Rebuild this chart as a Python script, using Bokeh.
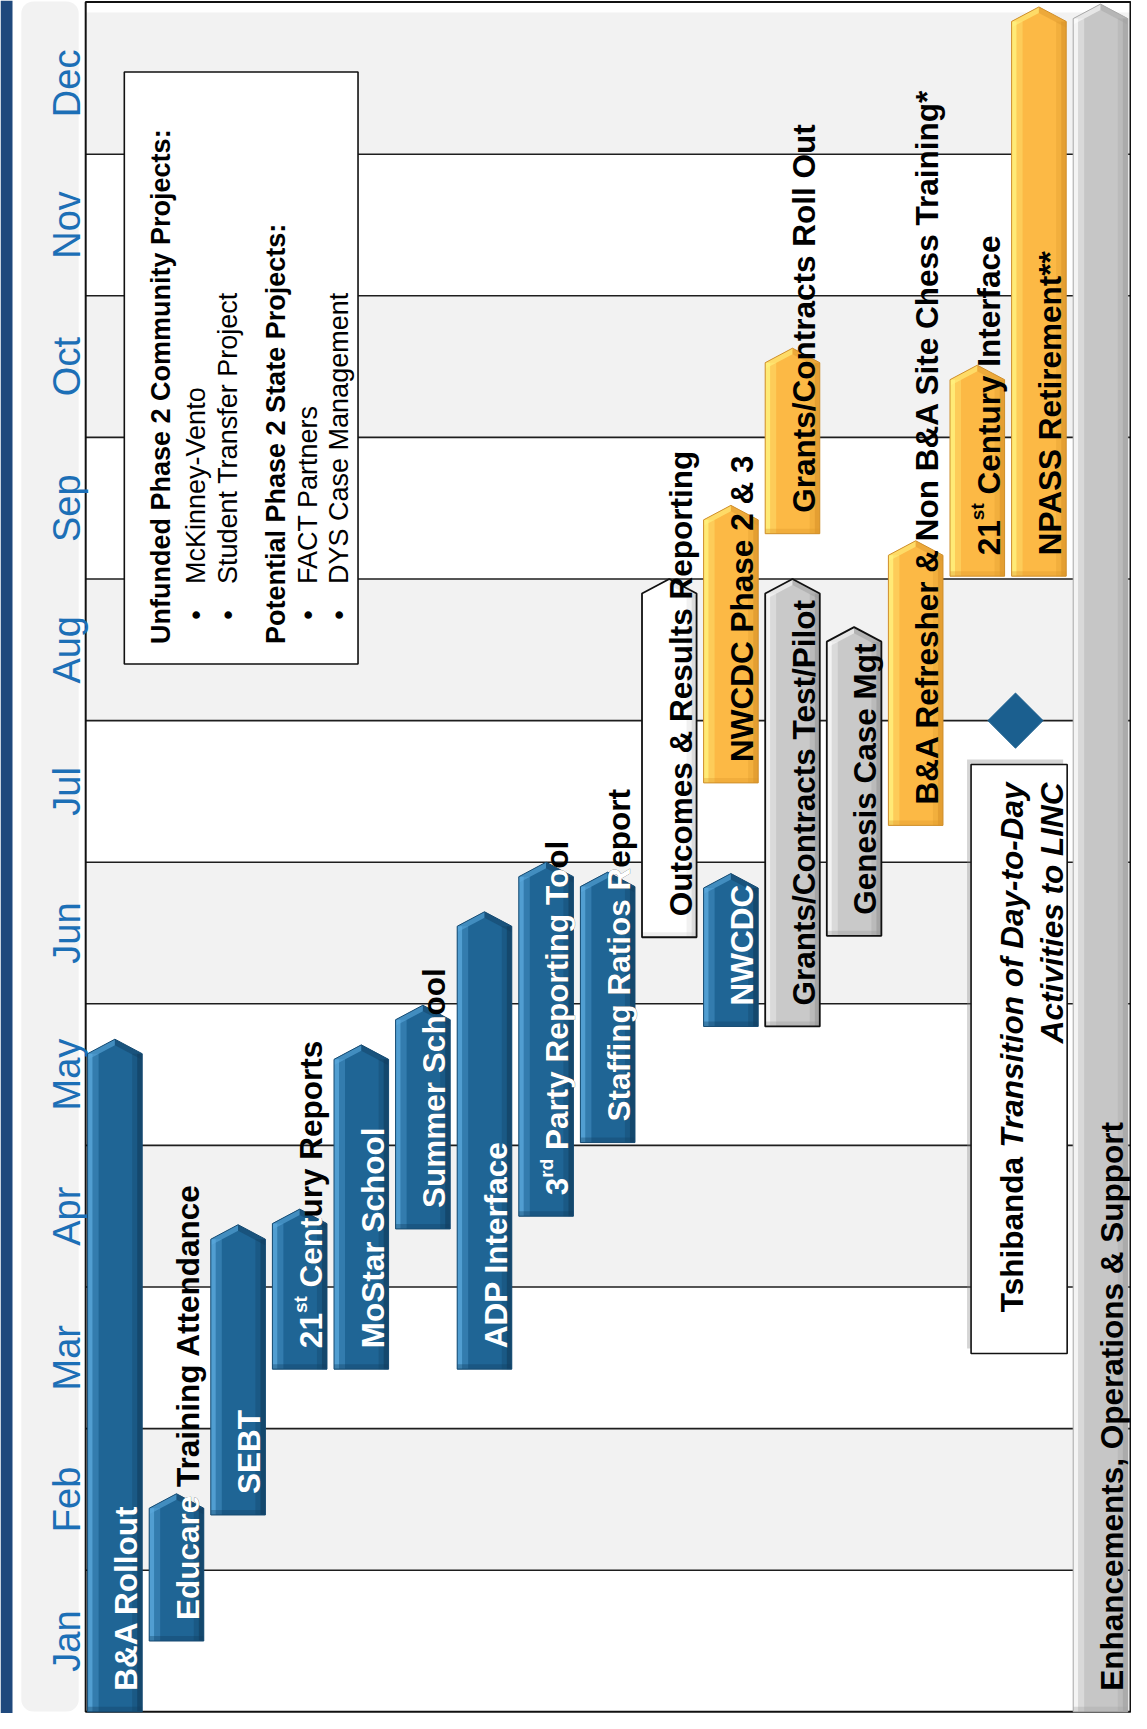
import math
import re
from bokeh.plotting import figure
from bokeh.models import Range1d, ColumnDataSource
from bokeh.core.properties import value, field
from bokeh.embed import file_html
from bokeh.resources import INLINE

# ---------------- data ----------------
MONTHS = ["Jan", "Feb", "Mar", "Apr", "May", "Jun", "Jul", "Aug", "Sep", "Oct", "Nov", "Dec"]

TASKS = ["B&A Rollout", "Educare Training Attendance", "SEBT", "21st Century Reports",
         "MoStar School", "Summer School", "ADP Interface", "3rd Party Reporting Tool",
         "Staffing Ratios Report", "Outcomes & Results Reporting", "NWCDC",
         "NWCDC Phase 2 & 3", "Grants/Contracts Test/Pilot", "Genesis Case Mgt",
         "Grants/Contracts Roll Out", "B&A Refresher & Non B&A Site Chess Training*",
         "21st Century Interface", "NPASS Retirement**", "Enhancements, Operations & Support"]
LANES = [0, 1, 2, 3, 4, 5, 6, 7, 8, 9, 10, 10, 11, 12, 11, 13, 14, 15, 16]
START = [0.0, 0.50, 1.39, 2.42, 2.42, 3.41, 2.42, 3.50, 4.02, 5.47, 4.84,
         6.56, 4.84, 5.48, 8.32, 6.26, 8.02, 8.02, 0.0]
END = [4.75, 1.54, 3.44, 3.55, 4.71, 4.99, 5.65, 6.00, 5.93, 8.00, 5.92,
       8.52, 8.00, 7.66, 9.63, 8.27, 9.51, 12.04, 12.06]
STATUS = ["blue", "blue", "blue", "blue", "blue", "blue", "blue", "blue", "blue",
          "white", "blue", "orange", "gray", "gray", "orange", "orange", "orange",
          "orange", "ops"]

MILESTONE_LANE = [14.62]
MILESTONE_MONTH = [7.0]

LEGEND_HEAD_1 = "Unfunded Phase 2 Community Projects:"
LEGEND_ITEMS_1 = ["McKinney-Vento", "Student Transfer Project"]
LEGEND_HEAD_2 = "Potential Phase 2 State Projects:"
LEGEND_ITEMS_2 = ["FACT Partners", "DYS Case Management"]

NOTE_NAME = "Tshibanda"
NOTE_LINE_1 = "Transition of Day-to-Day"
NOTE_LINE_2 = "Activities to LINC"

# ---------------- layout ----------------
W, H = 1131, 1713
PXL = 61.6            # px per lane
X0 = -1.857
X1 = X0 + W / PXL
PXM = 141.6           # px per month
Y0 = -0.012
Y1 = Y0 + H / PXM
FL, FR, FB, FT = -0.474, 16.487, 0.0, 12.075

LEG_BOX = (0.153, 3.947, 7.40, 11.58)
NOTE_BOX = (13.899, 15.459, 2.53, 6.69)

FONT = "Liberation Sans"
HALF = 0.443
TIP = 14.5
PAD = 21.0
LABEL = 31.5
SUPS = 19.0
MAIN_BASE = LABEL * 0.716 / 2
SUP_BASE = 0.5

BOLD_W = {' ': 278, '!': 333, '&': 722, '*': 389, ',': 278, '-': 333, '.': 278, '/': 278, ':': 333,
          'A': 722, 'B': 722, 'C': 722, 'D': 722, 'E': 667, 'F': 611, 'G': 778, 'H': 722, 'I': 278,
          'J': 556, 'K': 722, 'L': 611, 'M': 833, 'N': 722, 'O': 778, 'P': 667, 'Q': 778, 'R': 722,
          'S': 667, 'T': 611, 'U': 722, 'V': 667, 'W': 944, 'X': 667, 'Y': 667, 'Z': 611,
          'a': 556, 'b': 611, 'c': 556, 'd': 611, 'e': 556, 'f': 333, 'g': 611, 'h': 611, 'i': 278,
          'j': 278, 'k': 556, 'l': 278, 'm': 889, 'n': 611, 'o': 611, 'p': 611, 'q': 611, 'r': 389,
          's': 556, 't': 333, 'u': 611, 'v': 556, 'w': 778, 'x': 556, 'y': 556, 'z': 500}


def tw(s, size):
    return sum(BOLD_W.get(c, 556) for c in s) * size / 1000.0


STYLE = {
    "blue":   dict(fill="#1f6595", light="#5aa8dc", dark="#123f60", line="#164b72", lw=1.0),
    "orange": dict(fill="#fcb945", light="#fff27f", dark="#dc972c", line="#cf8f2c", lw=1.0),
    "gray":   dict(fill="#c9c9c9", light="#fafafa", dark="#989898", line="#111111", lw=1.8),
    "white":  dict(fill="#ffffff", light="#ffffff", dark="#cfcfcf", line="#111111", lw=1.8),
    "ops":    dict(fill="#c6c6c6", light="#fbfbfb", dark="#a2a2a2", line="#a8a8a8", lw=1.0),
}

p = figure(width=W, height=H, x_range=Range1d(X0, X1), y_range=Range1d(Y0, Y1),
           output_backend="svg", toolbar_location=None, x_axis_location=None,
           y_axis_location=None, min_border=0, outline_line_color=None,
           background_fill_color="white", border_fill_color="white")
p.xgrid.visible = False
p.ygrid.visible = False

# left strip and month panel
p.quad(left=X0, right=X0 + 12 / PXL, bottom=Y0, top=Y1, fill_color="#1f497d", line_color=None)
p.quad(left=X0 + 20.8 / PXL, right=X0 + 78.2 / PXL, bottom=Y0 + 2 / PXM, top=Y1 - 1 / PXM,
       fill_color="#f2f2f2", line_color=None, border_radius=12)

# month bands
bl, br, bb, bt, bc = [], [], [], [], []
for i, m in enumerate(MONTHS):
    bl.append(FL); br.append(FR); bb.append(i); bt.append(min(i + 1, FT))
    bc.append("#ffffff" if i % 2 == 0 else "#f2f2f2")
p.quad(left=bl, right=br, bottom=bb, top=bt, fill_color=bc, line_color=None)
ks = list(range(1, len(MONTHS)))
p.segment(x0=[FL] * len(ks), x1=[FR] * len(ks), y0=ks, y1=ks, line_color="#1e1e1e", line_width=1.6)
p.quad(left=FL, right=FR, bottom=FB, top=FT, fill_color=None, line_color="#111111", line_width=2)

# month labels
mid = [(i + min(i + 1, FT)) / 2 for i in range(len(MONTHS))]
p.text(x=[X0 + 66.4 / PXL] * len(MONTHS), y=mid, text=MONTHS, angle=math.pi / 2,
       text_align="center", text_baseline="alphabetic", text_color="#1c6fb6",
       text_font=value(FONT), text_font_size="38px")

# bars
px_, py_, pf, plc, plw = [], [], [], [], []
ql, qr, qb, qt, qc, qa = [], [], [], [], [], []
tx, ty, tc, ta = [], [], [], []


def q(x0, x1, y0, y1, c, a):
    ql.append(x0); qr.append(x1); qb.append(y0); qt.append(y1); qc.append(c); qa.append(a)


for lane, s, e, k in zip(LANES, START, END, STATUS):
    st = STYLE[k]
    l, r = lane - HALF, lane + HALF
    sh = e - TIP / PXM
    px_.append([l, r, r, lane, l]); py_.append([s, s, sh, e, sh])
    pf.append(st["fill"]); plc.append(st["line"]); plw.append(st["lw"])
    q(l, l + 5 / PXL, s, sh, st["light"], 0.85)
    q(l + 5 / PXL, l + 11 / PXL, s, sh, st["light"], 0.35)
    q(r - 5 / PXL, r, s, sh, st["dark"], 0.75)
    q(r - 10 / PXL, r - 5 / PXL, s, sh, st["dark"], 0.3)
    q(l, r, s, s + 5 / PXM, st["dark"], 0.35)
    b = 6 / PXM
    tx.append([l, lane, lane, l]); ty.append([sh, e, e - b, sh - b]); tc.append(st["light"]); ta.append(0.6)
    tx.append([lane, r, r, lane]); ty.append([e, sh, sh - b, e - b]); tc.append(st["dark"]); ta.append(0.45)

p.patches(xs=px_, ys=py_, fill_color=pf, line_color=None)
p.quad(left=ql, right=qr, bottom=qb, top=qt, fill_color=qc, fill_alpha=qa, line_color=None)
p.patches(xs=tx, ys=ty, fill_color=tc, fill_alpha=ta, line_color=None)
p.patches(xs=px_, ys=py_, fill_alpha=0, line_color=plc, line_width=plw)

# legend box
L, R, B, T = LEG_BOX
p.quad(left=L, right=R, bottom=B, top=T, fill_color="white", line_color="#111111", line_width=1.6)

# note box with shadow
nl, nr, nb, nt = NOTE_BOX
p.quad(left=nl - 4 / PXL, right=nr - 4 / PXL, bottom=nb + 5 / PXM, top=nt + 5 / PXM,
       fill_color="#888888", fill_alpha=0.35, line_color=None)
p.quad(left=nl, right=nr, bottom=nb, top=nt, fill_color="white", line_color="#111111", line_width=1.6)

# milestone
p.scatter(x=MILESTONE_LANE, y=MILESTONE_MONTH, marker="square", angle=math.pi / 4, size=39,
          fill_color="#1b5f8f", line_color="#1b5f8f")

# ---------------- texts ----------------
texts = []


def add(x, y, s, color, size, style="bold", align="left"):
    texts.append(dict(x=x, y=y, text=s, color=color, size="%.1fpx" % size, style=style, align=align))


def segments(label):
    m = re.match(r"^(\d+)(st|nd|rd|th) (.*)$", label)
    if m:
        a, sfx, rest = m.groups()
        wa = tw(a, LABEL)
        ws = tw(sfx, SUPS)
        return [(a, LABEL, 0.0, False), (sfx, SUPS, wa, True),
                (rest, LABEL, wa + ws + tw(" ", LABEL), False)]
    return [(label, LABEL, 0.0, False)]


for name, lane, s, e, k in zip(TASKS, LANES, START, END, STATUS):
    for txt, size, off, sup in segments(name):
        y = s + (PAD + off) / PXM
        x = lane + (SUP_BASE if sup else MAIN_BASE) / PXL
        if k == "blue":
            cum, n = 0.0, 0
            for ch in txt:
                w = BOLD_W.get(ch, 556) * size / 1000.0
                if y + (cum + w / 2) / PXM <= e - 5 / PXM:
                    n += 1
                    cum += w
                else:
                    break
            if n >= len(txt):
                add(x, y, txt, "#ffffff", size)
            else:
                add(x, y, txt, "#000000", size)
                if txt[:n].strip():
                    add(x, y, txt[:n].rstrip(), "#ffffff", size)
        else:
            add(x, y, txt, "#000000", size)

# legend texts
LEG_SIZE = 27.0
base_offsets = [37, 72, 104, 152, 184, 215]
rows = [(LEGEND_HEAD_1, True)] + [(t, False) for t in LEGEND_ITEMS_1] + \
       [(LEGEND_HEAD_2, True)] + [(t, False) for t in LEGEND_ITEMS_2]
for (txt, head), off in zip(rows, base_offsets):
    x = L + off / PXL
    if head:
        add(x, B + 20 / PXM, txt, "#000000", LEG_SIZE, style="bold")
    else:
        add(x, B + 49 / PXM, "\u2022", "#000000", LEG_SIZE, style="normal", align="center")
        add(x, B + 80 / PXM, txt, "#000000", LEG_SIZE, style="normal")

# note texts (right aligned toward the top)
top_end = nt - 18 / PXM
x1 = nl + 41 / PXL
x2 = nl + 81 / PXL
add(x1, top_end, NOTE_LINE_1, "#000000", LABEL, style="bold italic", align="right")
add(x1, top_end - (tw(" ", LABEL) + tw(NOTE_LINE_1, LABEL)) / PXM, NOTE_NAME, "#000000", LABEL,
    style="bold", align="right")
add(x2, top_end, NOTE_LINE_2, "#000000", LABEL, style="bold italic", align="right")

groups = []
for t in texts:
    key = (t["style"], t["align"])
    if key not in groups:
        groups.append(key)
for style, align in groups:
    rows_ = [t for t in texts if t["style"] == style and t["align"] == align]
    src = ColumnDataSource(dict(x=[t["x"] for t in rows_], y=[t["y"] for t in rows_],
                                text=[t["text"] for t in rows_], color=[t["color"] for t in rows_],
                                size=[t["size"] for t in rows_]))
    p.text(x="x", y="y", text="text", source=src, angle=math.pi / 2, text_color="color",
           text_font_size=field("size"), text_font=value(FONT), text_font_style=style,
           text_align=align, text_baseline="alphabetic")

open("out.html", "w").write(file_html(p, INLINE))
